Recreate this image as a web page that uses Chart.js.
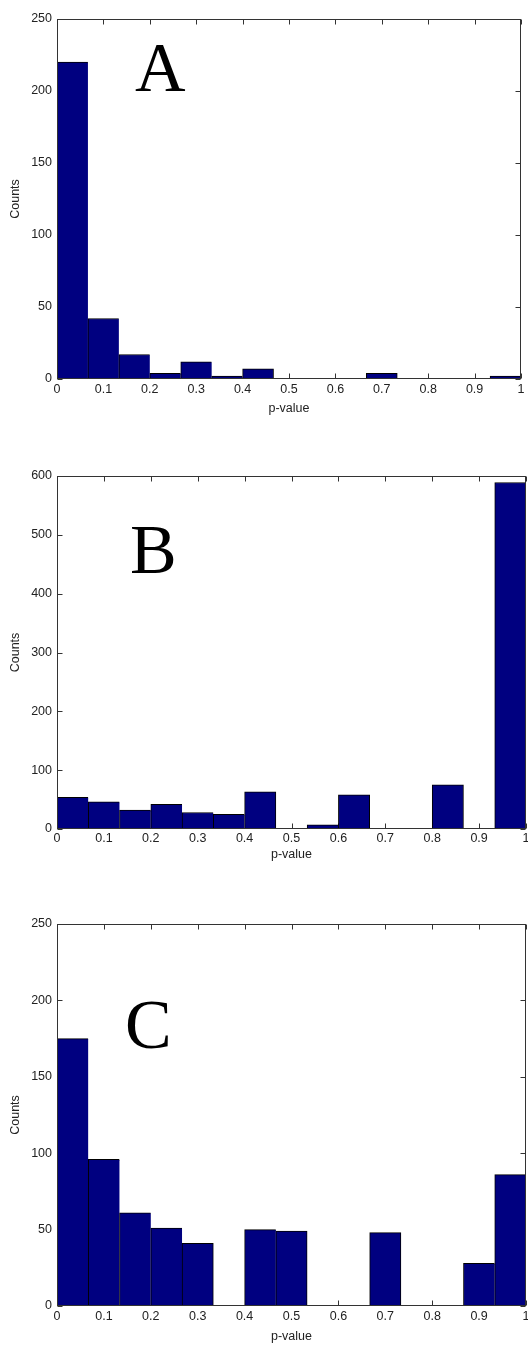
<!DOCTYPE html>
<html>
<head>
<meta charset="UTF-8">
<title>p-value histograms</title>
<script src="https://cdn.jsdelivr.net/npm/chart.js@4"></script>
<style>
  body { margin: 0; background: #fff; overflow: hidden; width: 528px; height: 1345px; position: relative; }
  canvas { position: absolute; left: 0; }
</style>
</head>
<body>
<canvas id="panelA" width="528" height="420" style="top:0px"></canvas>
<canvas id="panelB" width="528" height="430" style="top:440px"></canvas>
<canvas id="panelC" width="528" height="455" style="top:890px"></canvas>
<script>
// histogram bins (15 bins on [0, 1])
const binEdges = [0, 0.0667, 0.1333, 0.2, 0.2667, 0.3333, 0.4, 0.4667, 0.5333, 0.6, 0.6667, 0.7333, 0.8, 0.8667, 0.9333, 1];

// counts
const countsA = [220, 42, 17, 4, 12, 2, 7, 0, 0, 0, 4, 0, 0, 0, 2];
const countsB = [54, 46, 32, 42, 28, 25, 63, 0, 7, 58, 0, 0, 75, 0, 589];
const countsC = [175, 96, 61, 51, 41, 0, 50, 49, 0, 0, 48, 0, 0, 28, 86];

const xTicks = [0, 0.1, 0.2, 0.3, 0.4, 0.5, 0.6, 0.7, 0.8, 0.9, 1];
const xTickLabels = ['0', '0.1', '0.2', '0.3', '0.4', '0.5', '0.6', '0.7', '0.8', '0.9', '1'];
const yTicksA = [0, 50, 100, 150, 200, 250];
const yTicksB = [0, 100, 200, 300, 400, 500, 600];
const yTicksC = [0, 50, 100, 150, 200, 250];

const FONT = '"Liberation Sans", Arial, sans-serif';
const FS = 12.5, LH = FS * 1.2;

// page layout of each panel (px, page coordinates)
const panels = [
  { id: 'panelA', letter: 'A', counts: countsA, yTicks: yTicksA, canvasTop: 0, height: 420,
    areaTop: 19, areaBottom: 379, areaRight: 521, tickCenter: 390, titleCenter: 408.5, letterX: 135, letterY: 91 },
  { id: 'panelB', letter: 'B', counts: countsB, yTicks: yTicksB, canvasTop: 440, height: 430,
    areaTop: 476, areaBottom: 829, areaRight: 526, tickCenter: 839, titleCenter: 855, letterX: 130, letterY: 573 },
  { id: 'panelC', letter: 'C', counts: countsC, yTicks: yTicksC, canvasTop: 890, height: 455,
    areaTop: 924, areaBottom: 1306, areaRight: 526, tickCenter: 1317, titleCenter: 1336.5, letterX: 125, letterY: 1048 }
];

function edges(a) {
  return { L: Math.round(a.left) + 0.5, R: Math.round(a.right) - 0.5, T: Math.round(a.top) + 0.5, B: Math.round(a.bottom) - 0.5 };
}

// inward ticks go under the bars, the box and panel letter on top
const framePlugin = {
  id: 'frame',
  beforeDatasetsDraw(chart) {
    const { ctx, chartArea, scales: { x, y } } = chart;
    const { L, R, T, B } = edges(chartArea);
    ctx.save();
    ctx.strokeStyle = '#333';
    ctx.lineWidth = 1;
    ctx.beginPath();
    x.ticks.forEach(t => {
      const px = Math.round(x.getPixelForValue(t.value)) + 0.5;
      ctx.moveTo(px, B); ctx.lineTo(px, B - 5);
      ctx.moveTo(px, T); ctx.lineTo(px, T + 5);
    });
    y.ticks.forEach(t => {
      const py = Math.round(y.getPixelForValue(t.value)) + 0.5;
      ctx.moveTo(L, py); ctx.lineTo(L + 5, py);
      ctx.moveTo(R, py); ctx.lineTo(R - 5, py);
    });
    ctx.stroke();
    ctx.restore();
  },
  afterDatasetsDraw(chart, args, opts) {
    const { ctx, chartArea } = chart;
    const { L, R, T, B } = edges(chartArea);
    ctx.save();
    ctx.strokeStyle = '#333';
    ctx.lineWidth = 1;
    ctx.strokeRect(L, T, R - L, B - T);
    ctx.fillStyle = '#000';
    ctx.font = '70px "Liberation Serif", "Times New Roman", serif';
    ctx.textAlign = 'left';
    ctx.textBaseline = 'alphabetic';
    ctx.fillText(opts.letter, opts.x, opts.y);
    ctx.restore();
  }
};

panels.forEach(p => {
  const local = v => v - p.canvasTop;
  const data = p.counts.map((c, i) => ({ x: (binEdges[i] + binEdges[i + 1]) / 2, y: c }));
  const xHeight = p.height - local(p.areaBottom);

  new Chart(document.getElementById(p.id), {
    type: 'bar',
    data: {
      datasets: [{
        data: data,
        backgroundColor: '#000080',
        borderColor: '#000',
        borderWidth: ctx => {
          const next = ctx.dataset.data[ctx.dataIndex + 1];
          return { top: 1, left: 1, bottom: 0, right: (!next || next.y === 0) ? 1 : 0 };
        },
        barPercentage: 1,
        categoryPercentage: 1
      }]
    },
    plugins: [framePlugin],
    options: {
      responsive: false,
      animation: false,
      devicePixelRatio: 1,
      layout: { padding: { top: local(p.areaTop), right: 528 - p.areaRight, left: 0, bottom: 0 } },
      plugins: {
        legend: { display: false },
        tooltip: { enabled: false },
        frame: { letter: p.letter, x: p.letterX, y: local(p.letterY) }
      },
      scales: {
        x: {
          type: 'linear',
          min: 0, max: 1,
          offset: false,
          grid: { display: false, drawTicks: false },
          border: { display: false },
          afterBuildTicks: s => { s.ticks = xTicks.map(v => ({ value: v })); },
          afterFit: s => { s.height = xHeight; s.paddingLeft = 0; s.paddingRight = 0; },
          ticks: {
            autoSkip: false, maxRotation: 0,
            padding: p.tickCenter - p.areaBottom - LH / 2,
            color: '#222', font: { family: FONT, size: FS },
            callback: (v, i) => xTickLabels[i]
          },
          title: {
            display: true, text: 'p-value', color: '#222',
            font: { family: FONT, size: FS },
            padding: { top: 0, bottom: p.canvasTop + p.height - p.titleCenter - LH / 2 }
          }
        },
        y: {
          min: 0, max: p.yTicks[p.yTicks.length - 1],
          grid: { display: false, drawTicks: false },
          border: { display: false },
          afterBuildTicks: s => { s.ticks = p.yTicks.map(v => ({ value: v })); },
          afterFit: s => { s.width = 57; },
          ticks: {
            padding: 5, color: '#222', font: { family: FONT, size: FS },
            callback: v => String(v)
          },
          title: {
            display: true, text: 'Counts', color: '#222',
            font: { family: FONT, size: FS },
            padding: { top: 16 - LH / 2, bottom: 0 }
          }
        }
      }
    }
  });
});
</script>
</body>
</html>
